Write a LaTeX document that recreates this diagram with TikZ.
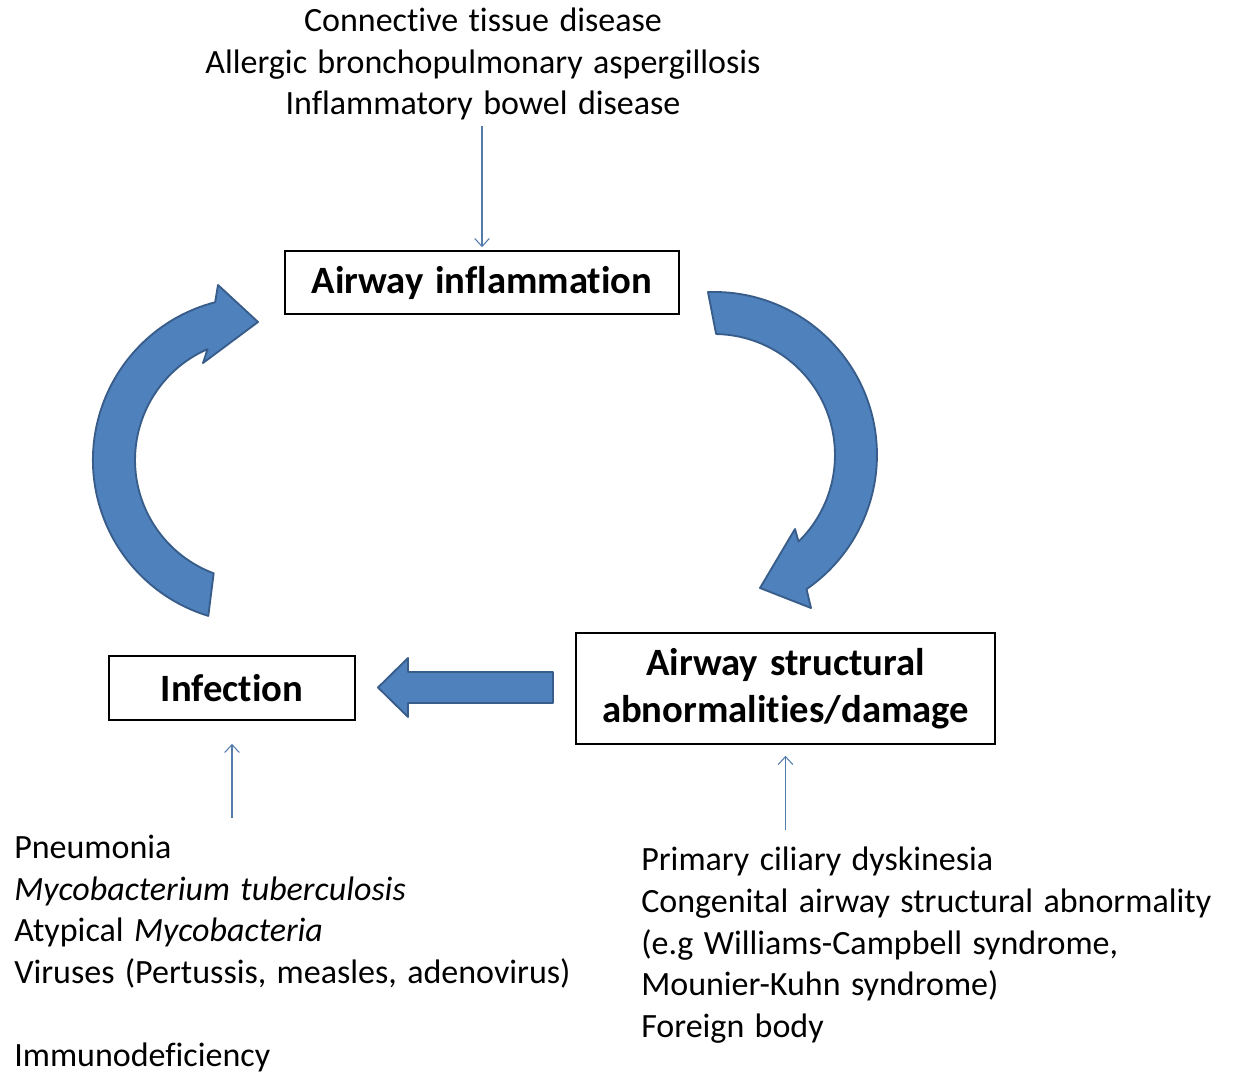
\documentclass[tikz,border=0pt]{standalone}
\usepackage{fontspec}
\setmainfont{Carlito}[Ligatures=NoCommon, WordSpace=1.35]
\usetikzlibrary{arrows.meta}

\definecolor{shapefill}{RGB}{79,129,189}
\definecolor{shapeline}{RGB}{56,93,138}
\definecolor{connline}{RGB}{84,124,170}

\begin{document}
\begin{tikzpicture}[x=0.75pt,y=0.75pt,yscale=-1,xscale=1,
  causebox/.style={draw=black, line width=1.2pt, font=\fontsize{29}{35}\selectfont\bfseries, align=center, inner sep=0pt},
  listtext/.style={font=\fontsize{25.5}{31.2}\selectfont, inner sep=0pt},
  thinarr/.style={draw=connline, line width=0.8pt, -{Straight Barb[length=6pt,width=11pt]}},
  blockarr/.style={fill=shapefill, draw=shapeline, line width=1.4pt, line join=round}]
\useasboundingbox (0,0) rectangle (1233,1074);

% Text Node
\node[causebox, minimum width=295.5pt, minimum height=47.25pt] (inflam) at (482,282.5) {Airway inflammation};
% Text Node
\node[causebox, minimum width=184.5pt, minimum height=48pt] (infect) at (232,688) {Infection};
% Text Node
\node[causebox, minimum width=314.25pt, minimum height=83.25pt] (struct) at (785.5,688.5) {Airway structural\\abnormalities/damage};

% Text Node
\node[listtext, align=center] (inflcause) at (483,64) {Connective tissue disease\\Allergic bronchopulmonary aspergillosis\\Inflammatory bowel disease};
% Text Node
\node[listtext, align=left, anchor=north west] (infcause) at (14,835) {Pneumonia\\\textit{Mycobacterium tuberculosis}\\Atypical \textit{Mycobacteria}\\Viruses (Pertussis, measles, adenovirus)\\[31.2pt]Immunodeficiency};
% Text Node
\node[listtext, align=left, anchor=north west] (structcause) at (641,847) {Primary ciliary dyskinesia\\Congenital airway structural abnormality\\(e.g Williams-Campbell syndrome,\\Mounier-Kuhn syndrome)\\Foreign body};

%Straight Lines
\draw[thinarr, shorten <=4.5pt, shorten >=2.25pt] (inflam.north |- inflcause.south) -- (inflam.north);
\draw[thinarr, shorten <=13pt, shorten >=17.25pt] (infect.south |- infcause.north) -- (infect.south);
\draw[thinarr, shorten <=12.75pt, shorten >=8.25pt] (struct.south |- structcause.north) -- (struct.south);

%Shape: Circular Arrow
\draw[blockarr] (208.3,615.9) arc[start angle=107, end angle=255.5, radius=163] -- (218,285) -- (258,322) -- (203,363) -- (207.6,349.1) arc[start angle=246.4, end angle=110.5, radius=121] -- cycle;
%Shape: Circular Arrow
\draw[blockarr] (708.0,292.1) arc[start angle=-92.1, end angle=55.4, radius=163] -- (811,608) -- (760,588) -- (795,529) -- (798.5,541.6) arc[start angle=45.7, end angle=-89, radius=121] -- cycle;
%Shape: Left Arrow
\draw[blockarr] (553,672) -- (408,672) -- (408,658) -- (378,687.5) -- (408,717) -- (408,703) -- (553,703) -- cycle;

\end{tikzpicture}
\end{document}
